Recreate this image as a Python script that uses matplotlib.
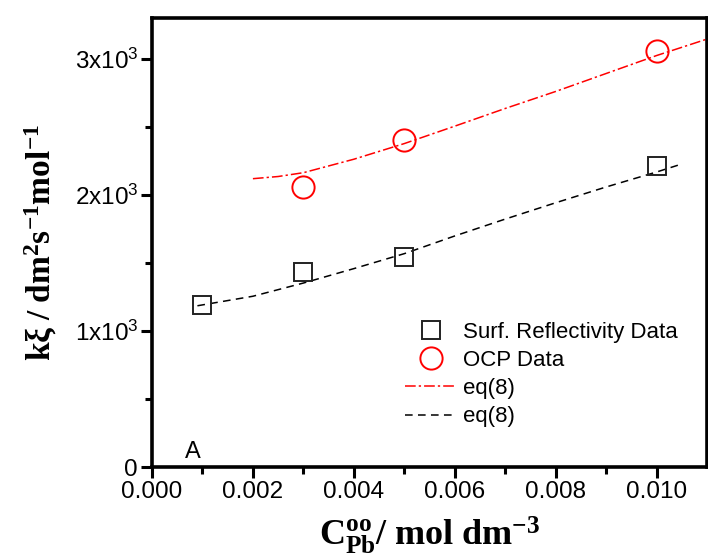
import numpy as np
import matplotlib
matplotlib.use('Agg')
import matplotlib.pyplot as plt
from matplotlib.ticker import FixedLocator

plt.rcParams['font.family'] = ['Liberation Sans', 'DejaVu Sans']
plt.rcParams['mathtext.fontset'] = 'custom'
plt.rcParams['mathtext.rm'] = 'Liberation Serif'
plt.rcParams['mathtext.bf'] = 'Liberation Serif:bold'
plt.rcParams['mathtext.it'] = 'Liberation Serif:italic'

# data points
c_refl = [0.001, 0.003, 0.005, 0.010]
k_refl = [1187, 1435, 1547, 2215]
c_ocp = [0.003, 0.005, 0.010]
k_ocp = [2055, 2406, 3061]

# eq(8) curves
c_fit_ocp = [0.002, 0.0025, 0.003, 0.004, 0.005, 0.006, 0.007, 0.008, 0.009, 0.010, 0.011]
k_fit_ocp = [2119, 2135, 2163, 2262, 2377, 2505, 2635, 2760, 2892, 3024, 3145]
c_fit_refl = [0.0009, 0.002, 0.003, 0.004, 0.005, 0.006, 0.007, 0.008, 0.009, 0.010, 0.0105]
k_fit_refl = [1185, 1255, 1352, 1458, 1568, 1698, 1822, 1942, 2058, 2168, 2227]

xticks = [0.000, 0.002, 0.004, 0.006, 0.008, 0.010]
xticklabels = ['0.000', '0.002', '0.004', '0.006', '0.008', '0.010']
yticks = [0, 1000, 2000, 3000]
yticklabels = ['0', r'$\mathregular{1x10^3}$', r'$\mathregular{2x10^3}$', r'$\mathregular{3x10^3}$']

fig = plt.figure(figsize=(7.08, 5.59), dpi=100)
ax = fig.add_axes([152/708, 92/559, 555/708, 449/559])

ax.plot(c_fit_ocp, k_fit_ocp, color='red', lw=1.1, dashes=(7, 2, 1.5, 2), label='eq(8)', zorder=2)
ax.plot(c_fit_refl, k_fit_refl, color='black', lw=1.1, dashes=(5, 3.5), label='eq(8)', zorder=2)
ax.plot(c_refl, k_refl, ls='none', marker='s', ms=13, mfc='none', mec='#222222', mew=1.4,
        label='Surf. Reflectivity Data', zorder=3)
ax.plot(c_ocp, k_ocp, ls='none', marker='o', ms=16, mfc='none', mec='red', mew=1.4,
        label='OCP Data', zorder=3)

ax.set_xlim(0, 0.011)
ax.set_ylim(0, 3300)
ax.set_xticks(xticks)
ax.set_xticklabels(xticklabels)
ax.set_yticks(yticks)
ax.set_yticklabels(yticklabels)
ax.xaxis.set_minor_locator(FixedLocator([0.001, 0.003, 0.005, 0.007, 0.009]))
ax.yaxis.set_minor_locator(FixedLocator([500, 1500, 2500]))
ax.tick_params(which='major', direction='out', length=8, width=2.2, labelsize=17.5, pad=2)
ax.tick_params(which='minor', direction='out', length=5, width=2.2)
ax.tick_params(top=False, right=False)
for s in ax.spines.values():
    s.set_linewidth(2.6)

ax.set_ylabel(r'$\mathbf{k\xi\ /\ dm^2s^{-1}mol^{-1}}$', fontsize=24)
ax.yaxis.set_label_coords(-0.168, 0.5)
ax.set_xlabel(r'$\mathbf{C^{oo}_{Pb}/\ mol\ dm^{-3}}$', fontsize=26)
ax.xaxis.set_label_coords(0.5, -0.105)

ax.text(0.0008, 30, 'A', fontsize=17, va='bottom', ha='center')

h, l = ax.get_legend_handles_labels()
order = [2, 3, 0, 1]
ax.legend([h[i] for i in order], [l[i] for i in order], frameon=False, fontsize=16,
          loc='upper left', bbox_to_anchor=(405/708, 1 - 322/559), bbox_transform=fig.transFigure,
          borderpad=0, borderaxespad=0, handlelength=2.3, handletextpad=0.3, labelspacing=0.32)

fig.savefig('out.png', dpi=100)
